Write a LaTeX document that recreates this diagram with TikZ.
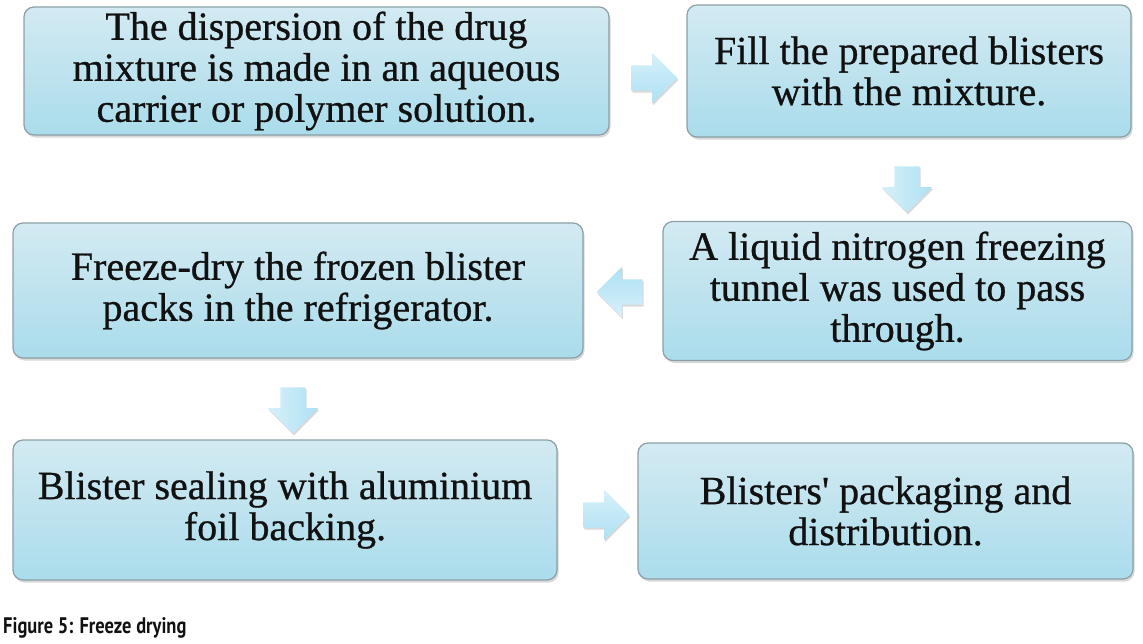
\documentclass[tikz,border=0pt]{standalone}
\usepackage{fontspec}
\setmainfont{Liberation Serif}[FakeBold=0.7]
\newfontfamily\capfont[FakeStretch=0.82]{PT Sans}
\usetikzlibrary{shapes.arrows,shadows}
\definecolor{boxline}{HTML}{8C9FA6}
\definecolor{boxtop}{HTML}{D3EAF2}
\definecolor{boxbot}{HTML}{AADCEB}
\definecolor{arrtop}{HTML}{D6F0FA}
\definecolor{arrbot}{HTML}{AEE1F2}
\definecolor{txt}{HTML}{111111}
\begin{document}
\begin{tikzpicture}[x=1pt,y=-1pt,
  box/.style={draw=boxline, line width=1.2pt, rounded corners=10pt,
    top color=boxtop, bottom color=boxbot,
    drop shadow={opacity=0.3, shadow xshift=1.5pt, shadow yshift=-2.5pt},
    align=center, text=txt, inner sep=0pt,
    font=\fontsize{40}{41}\selectfont},
  blockarrow/.style={single arrow, draw=none, inner xsep=0pt, inner ysep=12.5pt,
    top color=arrtop, bottom color=arrbot,
    minimum height=46pt, minimum width=0pt,
    single arrow head extend=12.5pt,
    drop shadow={opacity=0.3, shadow xshift=1pt, shadow yshift=-2pt}},
  caption/.style={anchor=base west, inner sep=0pt, text=txt,
    font=\capfont\bfseries\fontsize{22.5}{24}\selectfont}
]
\useasboundingbox (0,0) rectangle (1143,643);

\node[box, minimum width=585, minimum height=128] (b1) at (316.5,71)
  {The dispersion of the drug\\mixture is made in an aqueous\\carrier or polymer solution.};
\node[box, minimum width=444, minimum height=132] (b2) at (909,71)
  {Fill the prepared blisters\\with the mixture.};
\node[box, minimum width=469, minimum height=139] (b3) at (897.5,291)
  {A liquid nitrogen freezing\\tunnel was used to pass\\through.};
\node[box, minimum width=570, minimum height=135] (b4) at (298,290.5)
  {Freeze-dry the frozen blister\\packs in the refrigerator.};
\node[box, minimum width=544, minimum height=140] (b5) at (285,510)
  {Blister sealing with aluminium\\foil backing.};
\node[box, minimum width=495, minimum height=136] (b6) at (885.5,511)
  {Blisters\textquotesingle\ packaging and\\distribution.};

\node[blockarrow] (a12) at (648,78) {};
\node[blockarrow, rotate=-90, shading angle=90] (a23) at (907,183) {};
\node[blockarrow, rotate=180, shading angle=180] (a34) at (626,292) {};
\node[blockarrow, rotate=-90, shading angle=90] (a45) at (293,404) {};
\node[blockarrow] (a56) at (600,515) {};

\node[caption] (cap) at (3,633) {Figure 5: Freeze drying};
\end{tikzpicture}
\end{document}
